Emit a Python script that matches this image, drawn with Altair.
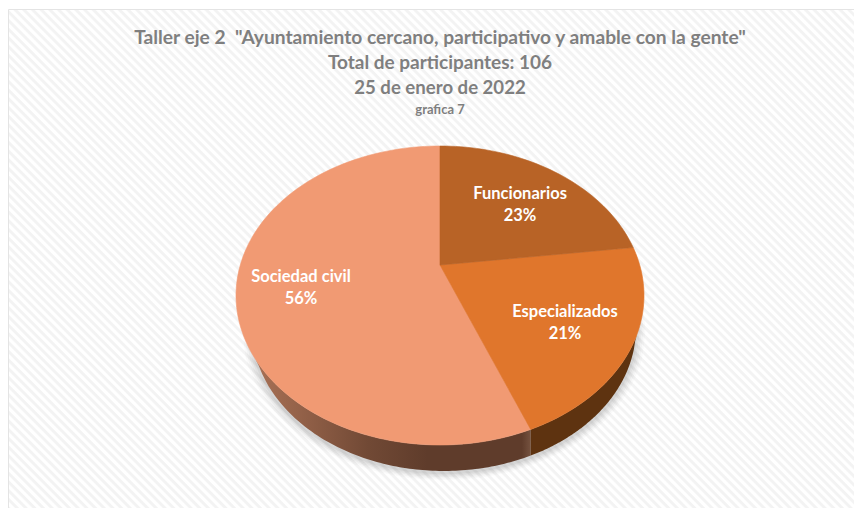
import math
import altair as alt
import pandas as pd

# --- values
categories = ["Funcionarios", "Especializados", "Sociedad civil"]
shares = [23, 21, 56]
slice_colors = ["#b86326", "#e0762c", "#f19a73"]
title_lines = [
    'Taller eje 2 \u00a0"Ayuntamiento cercano, participativo y amable con la gente"',
    "Total de participantes: 106",
    "25 de enero de 2022",
    "grafica 7",
]
title_sizes = [19.2, 19.0, 18.6, 13.0]
title_tops = [29.5, 54.5, 79.5, 101.5]

# --- layout of the tilted pie, in page pixels of the chart (origin at its corner)
W, H = 846, 500
CX, CY, RX, RY = 432, 287.5, 204, 149.5
TILT = 0.204                       # how far the apex sits above the ellipse centre
LOW_RX, LOW_RY, LOW_CY, LOW_DX = 192 / 204, 143 / 149.5, (328 - 295.5) / 149.5, 4 / 204

x_scale = alt.Scale(domain=[(0 - CX) / RX, (W - CX) / RX], range=[0, W], nice=False, zero=False)
y_scale = alt.Scale(domain=[(H - CY) / -RY, CY / RY], range=[H, 0], nice=False, zero=False)
X = lambda f="x": alt.X(f"{f}:Q", scale=x_scale, axis=None)
Y = lambda f="y": alt.Y(f"{f}:Q", scale=y_scale, axis=None)


def tilt(phi):
    """Angle on the circle (clockwise from top) -> point of the tilted ellipse."""
    sx, cy = math.sin(phi), math.cos(phi)
    d = 1 + TILT * cy
    return sx * math.sqrt(1 - TILT ** 2) / d, (cy + TILT) / d


# top faces
slice_rows = []
start = 0.0
for name, share in zip(categories, shares):
    end = start + share
    pts = [(0.0, TILT)]
    steps = max(8, share * 2)
    for i in range(steps + 1):
        phi = math.radians((start + (end - start) * i / steps) * 3.6)
        pts.append(tilt(phi))
    pts.append((0.0, TILT))
    for k, (px, py) in enumerate(pts):
        slice_rows.append({"slice": name, "x": px, "y": py, "k": k})
    start = end
slices = pd.DataFrame(slice_rows)

# edges of the side wall
split_x = tilt(math.radians((shares[0] + shares[1]) * 3.6))[0]


def wall(x0, x1, n=90):
    rows = []
    for i in range(n + 1):
        x = x0 + (x1 - x0) * i / n
        upper = -math.sqrt(max(0, 1 - x * x))
        lower = upper
        if abs(x - LOW_DX) < LOW_RX:
            lower = -LOW_CY - LOW_RY * math.sqrt(1 - ((x - LOW_DX) / LOW_RX) ** 2)
        rows.append({"x": x, "y": upper, "y2": min(lower, upper)})
    return pd.DataFrame(rows)


def blob(grow, dx, dy, n=120):
    rows = []
    for i in range(n + 1):
        x = -1 + 2 * i / n
        h = math.sqrt(max(0, 1 - x * x))
        rows.append({"x": x * LOW_RX * grow + dx,
                     "y": -LOW_CY + h * LOW_RY * grow + dy,
                     "y2": -LOW_CY - h * LOW_RY * grow + dy})
    return pd.DataFrame(rows)


# striped paper
period = 8.6
n_periods = int((W + H) / period)
stops = []
for i in range(n_periods):
    a = i / n_periods
    stops += [
        alt.GradientStop(offset=a, color="#ffffff"),
        alt.GradientStop(offset=a + 0.35 / n_periods, color="#ffffff"),
        alt.GradientStop(offset=a + 0.55 / n_periods, color="#f3f3f3"),
        alt.GradientStop(offset=a + 0.85 / n_periods, color="#f3f3f3"),
    ]
k = H / W
s = (1 + k) / (1 + k * k)
stripes = alt.Gradient(gradient="linear", stops=stops, x1=0, y1=1, x2=s, y2=1 - k * s)

paper = alt.Chart(pd.DataFrame({"a": [0]})).mark_rect(
    fill=stripes, stroke="#e4e4e4", strokeWidth=1
).encode(x=alt.value(0.5), x2=alt.value(W + 6), y=alt.value(1.5), y2=alt.value(H + 6))

layers = [paper]

# soft shadow under the wall
for grow, op in [(1.05, 0.035), (1.04, 0.05), (1.03, 0.06), (1.02, 0.07), (1.01, 0.09)]:
    layers.append(
        alt.Chart(blob(grow, LOW_DX, -0.012)).mark_area(color="#6e6e6e", opacity=op, interpolate="monotone")
        .encode(x=X(), y=Y(), y2=alt.Y2("y2:Q"))
    )

# side wall
wall_left = alt.Gradient(
    gradient="linear", x1=0, y1=0, x2=1, y2=0,
    stops=[
        alt.GradientStop(offset=0, color="#b0775a"),
        alt.GradientStop(offset=0.2, color="#96634a"),
        alt.GradientStop(offset=0.45, color="#714935"),
        alt.GradientStop(offset=0.65, color="#5f3c2b"),
        alt.GradientStop(offset=0.97, color="#5f3c2b"),
        alt.GradientStop(offset=1, color="#75523f"),
    ],
)
layers.append(alt.Chart(wall(-1, split_x)).mark_area(fill=wall_left, interpolate="linear")
              .encode(x=X(), y=Y(), y2=alt.Y2("y2:Q")))
layers.append(alt.Chart(wall(split_x, 1)).mark_area(color="#5e3310", interpolate="linear")
              .encode(x=X(), y=Y(), y2=alt.Y2("y2:Q")))

# top faces, largest first so the seams sit like the reference
for name, col in reversed(list(zip(categories, slice_colors))):
    layers.append(
        alt.Chart(slices[slices["slice"] == name])
        .mark_line(fill=col, stroke=col, strokeWidth=0.6, interpolate="linear")
        .encode(x=X(), y=Y(), order="k:Q")
    )

# slice labels
label_x = [512, 557, 293]
label_y = [186, 304, 269]
for name, share, lx, ly in zip(categories, shares, label_x, label_y):
    for txt, off in [(name, 0), (f"{share}%", 22)]:
        layers.append(
            alt.Chart(pd.DataFrame({"t": [txt]}))
            .mark_text(font="Lato", fontWeight="bold", fontSize=16.5, color="#ffffff", align="center", baseline="middle")
            .encode(text="t:N", x=alt.value(lx), y=alt.value(ly + off))
        )

# title block
for line, size, top in zip(title_lines, title_sizes, title_tops):
    layers.append(
        alt.Chart(pd.DataFrame({"t": [line]}))
        .mark_text(font="Lato", fontWeight="bold", fontSize=size, color="#7f7f7f", align="center", baseline="middle")
        .encode(text="t:N", x=alt.value(432), y=alt.value(top))
    )

chart = (
    alt.layer(*layers)
    .properties(width=W, height=H, padding=0, autosize=alt.AutoSizeParams(type="none"), background="#ffffff")
    .configure_view(stroke=None)
)
chart.save("out.html", embed_options={"renderer": "svg", "actions": False})
